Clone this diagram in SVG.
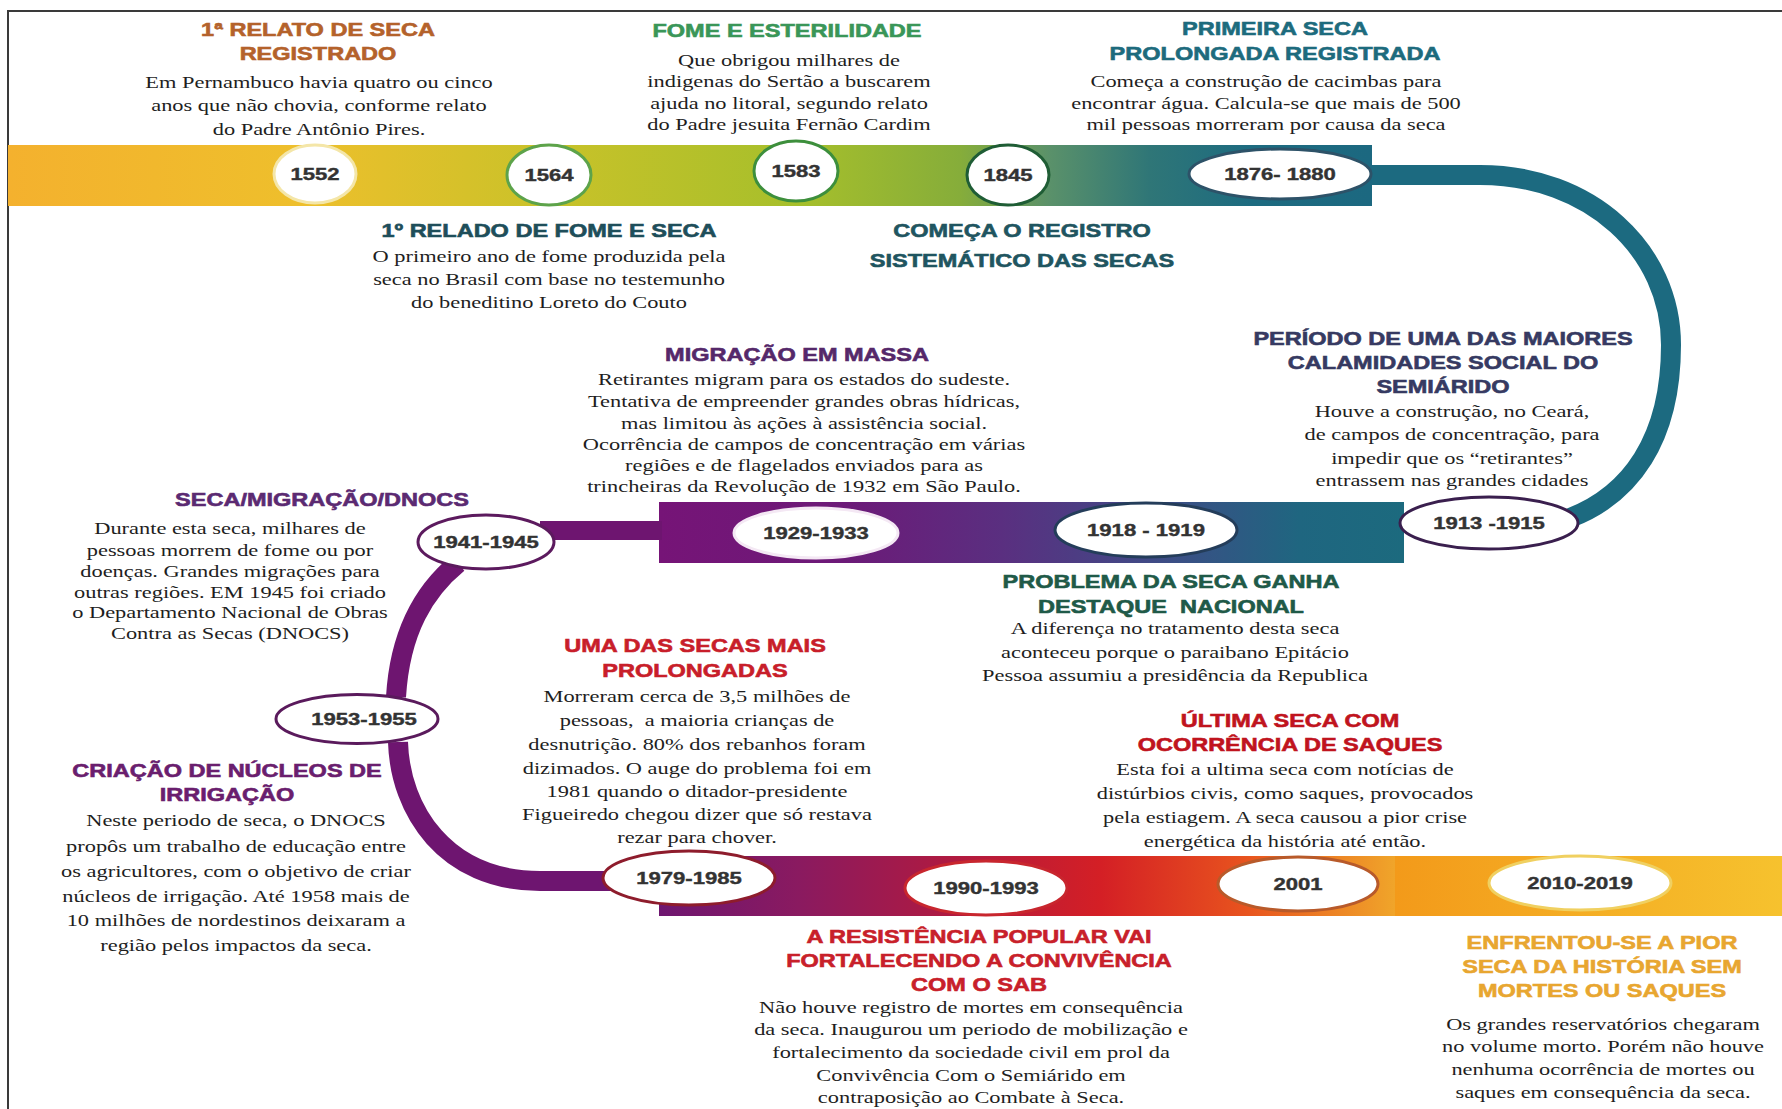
<svg xmlns="http://www.w3.org/2000/svg" width="1782" height="1109" viewBox="0 0 1782 1109">
  <defs>
    <linearGradient id="gTop" gradientUnits="userSpaceOnUse" x1="8" y1="0" x2="1372" y2="0">
      <stop offset="0" stop-color="#f4b12e"/>
      <stop offset="0.214" stop-color="#eebf2c"/>
      <stop offset="0.397" stop-color="#c9c229"/>
      <stop offset="0.581" stop-color="#a6bf2b"/>
      <stop offset="0.698" stop-color="#86ad3a"/>
      <stop offset="0.764" stop-color="#5a916a"/>
      <stop offset="0.837" stop-color="#2f7677"/>
      <stop offset="0.911" stop-color="#1d6b80"/>
      <stop offset="1" stop-color="#1c6880"/>
    </linearGradient>
    <linearGradient id="gMid" gradientUnits="userSpaceOnUse" x1="659" y1="0" x2="1404" y2="0">
      <stop offset="0" stop-color="#761477"/>
      <stop offset="0.25" stop-color="#6c1a78"/>
      <stop offset="0.46" stop-color="#5a2f80"/>
      <stop offset="0.66" stop-color="#404a86"/>
      <stop offset="0.86" stop-color="#1f6680"/>
      <stop offset="1" stop-color="#1c6a7e"/>
    </linearGradient>
    <linearGradient id="gBot" gradientUnits="userSpaceOnUse" x1="659" y1="0" x2="1395" y2="0">
      <stop offset="0" stop-color="#6e1670"/>
      <stop offset="0.19" stop-color="#8a1a60"/>
      <stop offset="0.4" stop-color="#b01a40"/>
      <stop offset="0.6" stop-color="#d41f25"/>
      <stop offset="0.8" stop-color="#e8541e"/>
      <stop offset="1" stop-color="#f0a52a"/>
    </linearGradient>
    <linearGradient id="gEnd" gradientUnits="userSpaceOnUse" x1="1395" y1="0" x2="1782" y2="0">
      <stop offset="0" stop-color="#f39a1a"/>
      <stop offset="1" stop-color="#f6c22e"/>
    </linearGradient>
  </defs>
  <style>
    .t { font-family: "Liberation Sans", Arial, sans-serif; font-weight: bold; font-size: 18.6px; text-anchor: middle; fill: currentColor; stroke: currentColor; stroke-width: 0.6px; }
    .b { font-family: "Liberation Serif", "Times New Roman", serif; font-size: 17.5px; fill: #1e1e1e; text-anchor: middle; }
    .yr { font-family: "Liberation Sans", Arial, sans-serif; font-weight: bold; font-size: 17px; fill: #333; stroke: #333; stroke-width: 0.4px; text-anchor: middle; }
    .oval { fill: #fff; stroke-width: 3; }
    .link { fill: none; stroke-width: 20; }
  </style>

  <rect width="1782" height="1109" fill="#fff"/>
  <!-- page frame -->
  <path d="M8 1109 V11 H1782" fill="none" stroke="#3a3a3a" stroke-width="2"/>

  <!-- timeline bands -->
  <g id="bands">
    <rect x="8" y="145" width="1364" height="61" fill="url(#gTop)"/>
    <rect x="659" y="502" width="745" height="61" fill="url(#gMid)"/>
    <rect x="659" y="856" width="736" height="60" fill="url(#gBot)"/>
    <rect x="1395" y="856" width="387" height="60" fill="url(#gEnd)"/>
  </g>

  <!-- connectors between the bands -->
  <g id="connectors">
    <path class="link" stroke="#1c6a80" d="M1372 175 H1480 C1590 175 1671 250 1671 345 C1671 440 1630 495 1570 518"/>
    <rect x="540" y="521" width="122" height="19" fill="#6e1570"/>
    <path class="link" stroke="#6e1570" d="M458 563 C425 590 400 630 396 697"/>
    <path class="link" stroke="#6e1570" d="M398 742 C400 810 445 881 540 881 H662"/>
  </g>

  <!-- year markers -->
  <g id="y1552"><ellipse class="oval" cx="315" cy="174" rx="41" ry="29" stroke="#f4e6a8" stroke-width="2"/><text class="yr" transform="translate(315 180) scale(1.3 1)">1552</text></g>
  <g id="y1564"><ellipse class="oval" cx="549" cy="175" rx="42" ry="30" stroke="#5da34a"/><text class="yr" transform="translate(549 181) scale(1.3 1)">1564</text></g>
  <g id="y1583"><ellipse class="oval" cx="796" cy="171" rx="42" ry="30" stroke="#3d8f3c"/><text class="yr" transform="translate(796 177) scale(1.3 1)">1583</text></g>
  <g id="y1845"><ellipse class="oval" cx="1008" cy="175" rx="41" ry="30" stroke="#1f5d35"/><text class="yr" transform="translate(1008 181) scale(1.3 1)">1845</text></g>
  <g id="y1876"><ellipse class="oval" cx="1280" cy="174" rx="91" ry="25" stroke="#2d5268" stroke-width="2"/><text class="yr" transform="translate(1280 180) scale(1.3 1)">1876- 1880</text></g>

  <g id="y1913"><ellipse class="oval" cx="1489" cy="523" rx="89" ry="26" stroke="#3a1f4e"/><text class="yr" transform="translate(1489 529) scale(1.3 1)">1913 -1915</text></g>
  <g id="y1918"><ellipse class="oval" cx="1146" cy="530" rx="91" ry="27" stroke="#243d5a"/><text class="yr" transform="translate(1146 536) scale(1.3 1)">1918 - 1919</text></g>
  <g id="y1929"><ellipse class="oval" cx="816" cy="533" rx="82" ry="25" stroke="#f4e8f4" stroke-width="2"/><text class="yr" transform="translate(816 539) scale(1.3 1)">1929-1933</text></g>
  <g id="y1941"><ellipse class="oval" cx="486" cy="542" rx="68" ry="27" stroke="#5c1a5e" stroke-width="3.5"/><text class="yr" transform="translate(486 548) scale(1.3 1)">1941-1945</text></g>
  <g id="y1953"><ellipse class="oval" cx="357" cy="719" rx="81" ry="24.5" stroke="#5a1a5c" stroke-width="3.5"/><text class="yr" transform="translate(364 725) scale(1.3 1)">1953-1955</text></g>

  <g id="y1979"><ellipse class="oval" cx="689" cy="878" rx="86" ry="27" stroke="#8e1c2c"/><text class="yr" transform="translate(689 884) scale(1.3 1)">1979-1985</text></g>
  <g id="y1990"><ellipse class="oval" cx="986" cy="888" rx="81" ry="27" stroke="#c8262e"/><text class="yr" transform="translate(986 894) scale(1.3 1)">1990-1993</text></g>
  <g id="y2001"><ellipse class="oval" cx="1298" cy="884" rx="80" ry="27" stroke="#b85a2a"/><text class="yr" transform="translate(1298 890) scale(1.3 1)">2001</text></g>
  <g id="y2010"><ellipse class="oval" cx="1580" cy="883" rx="91" ry="27" stroke="#f0d060" stroke-width="2"/><text class="yr" transform="translate(1580 889) scale(1.3 1)">2010-2019</text></g>

  <!-- event descriptions -->
  <g id="ev1552">
    <g transform="translate(318 0) scale(1.265 1)"><text class="t" color="#b4622b"><tspan x="0" y="36">1ª RELATO DE SECA</tspan><tspan x="0" y="60">REGISTRADO</tspan></text></g>
    <g transform="translate(319 0) scale(1.28 1)"><text class="b"><tspan x="0" y="88">Em Pernambuco havia quatro ou cinco</tspan><tspan x="0" y="111">anos que não chovia, conforme relato</tspan><tspan x="0" y="135">do Padre Antônio Pires.</tspan></text></g>
  </g>
  <g id="ev1583">
    <g transform="translate(787 0) scale(1.265 1)"><text class="t" color="#3a9658"><tspan x="0" y="36.7">FOME E ESTERILIDADE</tspan></text></g>
    <g transform="translate(789 0) scale(1.28 1)"><text class="b"><tspan x="0" y="66">Que obrigou milhares de</tspan><tspan x="0" y="87.5">indigenas do Sertão a buscarem</tspan><tspan x="0" y="109">ajuda no litoral, segundo relato</tspan><tspan x="0" y="130.5">do Padre jesuita Fernão Cardim</tspan></text></g>
  </g>
  <g id="ev1876">
    <g transform="translate(1275 0) scale(1.265 1)"><text class="t" color="#1d6b7d"><tspan x="0" y="35.5">PRIMEIRA SECA</tspan><tspan x="0" y="60">PROLONGADA REGISTRADA</tspan></text></g>
    <g transform="translate(1266 0) scale(1.28 1)"><text class="b"><tspan x="0" y="87.5">Começa a construção de cacimbas para</tspan><tspan x="0" y="109">encontrar água. Calcula-se que mais de 500</tspan><tspan x="0" y="130">mil pessoas morreram por causa da seca</tspan></text></g>
  </g>
  <g id="ev1564">
    <g transform="translate(549 0) scale(1.265 1)"><text class="t" color="#1e4e5a"><tspan x="0" y="237.5">1º RELADO DE FOME E SECA</tspan></text></g>
    <g transform="translate(549 0) scale(1.28 1)"><text class="b"><tspan x="0" y="262.5">O primeiro ano de fome produzida pela</tspan><tspan x="0" y="285.3">seca no Brasil com base no testemunho</tspan><tspan x="0" y="308">do beneditino Loreto do Couto</tspan></text></g>
  </g>
  <g id="ev1845">
    <g transform="translate(1022 0) scale(1.265 1)"><text class="t" color="#1f5560"><tspan x="0" y="237.5">COMEÇA O REGISTRO</tspan><tspan x="0" y="267">SISTEMÁTICO DAS SECAS</tspan></text></g>
  </g>
  <g id="ev1913">
    <g transform="translate(1443 0) scale(1.265 1)"><text class="t" color="#363a62"><tspan x="0" y="345.5">PERÍODO DE UMA DAS MAIORES</tspan><tspan x="0" y="369.4">CALAMIDADES SOCIAL DO</tspan><tspan x="0" y="393.2">SEMIÁRIDO</tspan></text></g>
    <g transform="translate(1452 0) scale(1.28 1)"><text class="b"><tspan x="0" y="417">Houve a construção, no Ceará,</tspan><tspan x="0" y="440">de campos de concentração, para</tspan><tspan x="0" y="463.7">impedir que os “retirantes”</tspan><tspan x="0" y="486.4">entrassem nas grandes cidades</tspan></text></g>
  </g>
  <g id="ev1929">
    <g transform="translate(797 0) scale(1.265 1)"><text class="t" color="#55286a"><tspan x="0" y="361.4">MIGRAÇÃO EM MASSA</tspan></text></g>
    <g transform="translate(804 0) scale(1.28 1)"><text class="b"><tspan x="0" y="385.3">Retirantes migram para os estados do sudeste.</tspan><tspan x="0" y="407">Tentativa de empreender grandes obras hídricas,</tspan><tspan x="0" y="428.6">mas limitou às ações à assistência social.</tspan><tspan x="0" y="450.2">Ocorrência de campos de concentração em várias</tspan><tspan x="0" y="471">regiões e de flagelados enviados para as</tspan><tspan x="0" y="492">trincheiras da Revolução de 1932 em São Paulo.</tspan></text></g>
  </g>
  <g id="ev1941">
    <g transform="translate(322 0) scale(1.265 1)"><text class="t" color="#5b2a72"><tspan x="0" y="505.7">SECA/MIGRAÇÃO/DNOCS</tspan></text></g>
    <g transform="translate(230 0) scale(1.28 1)"><text class="b"><tspan x="0" y="534">Durante esta seca, milhares de</tspan><tspan x="0" y="555.7">pessoas morrem de fome ou por</tspan><tspan x="0" y="577.3">doenças. Grandes migrações para</tspan><tspan x="0" y="597.8">outras regiões. EM 1945 foi criado</tspan><tspan x="0" y="618.3">o Departamento Nacional de Obras</tspan><tspan x="0" y="638.7">Contra as Secas (DNOCS)</tspan></text></g>
  </g>
  <g id="ev1918">
    <g transform="translate(1171 0) scale(1.265 1)"><text class="t" color="#1f5a48"><tspan x="0" y="587.6">PROBLEMA DA SECA GANHA</tspan><tspan x="0" y="612.6">DESTAQUE&#160; NACIONAL</tspan></text></g>
    <g transform="translate(1175 0) scale(1.28 1)"><text class="b"><tspan x="0" y="634">A diferença no tratamento desta seca</tspan><tspan x="0" y="658">aconteceu porque o paraibano Epitácio</tspan><tspan x="0" y="680.8">Pessoa assumiu a presidência da Republica</tspan></text></g>
  </g>
  <g id="ev1979">
    <g transform="translate(695 0) scale(1.265 1)"><text class="t" color="#c81e2a"><tspan x="0" y="652.3">UMA DAS SECAS MAIS</tspan><tspan x="0" y="677.4">PROLONGADAS</tspan></text></g>
    <g transform="translate(697 0) scale(1.28 1)"><text class="b"><tspan x="0" y="702.4">Morreram cerca de 3,5 milhões de</tspan><tspan x="0" y="726.2">pessoas,&#160; a maioria crianças de</tspan><tspan x="0" y="750">desnutrição. 80% dos rebanhos foram</tspan><tspan x="0" y="773.9">dizimados. O auge do problema foi em</tspan><tspan x="0" y="796.7">1981 quando o ditador-presidente</tspan><tspan x="0" y="820.5">Figueiredo chegou dizer que só restava</tspan><tspan x="0" y="843.3">rezar para chover.</tspan></text></g>
  </g>
  <g id="ev1953">
    <g transform="translate(227 0) scale(1.265 1)"><text class="t" color="#6a1e6e"><tspan x="0" y="777.4">CRIAÇÃO DE NÚCLEOS DE</tspan><tspan x="0" y="801.2">IRRIGAÇÃO</tspan></text></g>
    <g transform="translate(236 0) scale(1.28 1)"><text class="b"><tspan x="0" y="826.2">Neste periodo de seca, o DNOCS</tspan><tspan x="0" y="852.4">propôs um trabalho de educação entre</tspan><tspan x="0" y="877.4">os agricultores, com o objetivo de criar</tspan><tspan x="0" y="902.4">núcleos de irrigação. Até 1958 mais de</tspan><tspan x="0" y="926.2">10 milhões de nordestinos deixaram a</tspan><tspan x="0" y="951.2">região pelos impactos da seca.</tspan></text></g>
  </g>
  <g id="ev2001">
    <g transform="translate(1290 0) scale(1.265 1)"><text class="t" color="#c0141e"><tspan x="0" y="727.4">ÚLTIMA SECA COM</tspan><tspan x="0" y="751.2">OCORRÊNCIA DE SAQUES</tspan></text></g>
    <g transform="translate(1285 0) scale(1.28 1)"><text class="b"><tspan x="0" y="775">Esta foi a ultima seca com notícias de</tspan><tspan x="0" y="799">distúrbios civis, como saques, provocados</tspan><tspan x="0" y="822.8">pela estiagem. A seca causou a pior crise</tspan><tspan x="0" y="846.6">energética da história até então.</tspan></text></g>
  </g>
  <g id="ev1990">
    <g transform="translate(979 0) scale(1.265 1)"><text class="t" color="#c8202a"><tspan x="0" y="943.3">A RESISTÊNCIA POPULAR VAI</tspan><tspan x="0" y="967.2">FORTALECENDO A CONVIVÊNCIA</tspan><tspan x="0" y="991">COM O SAB</tspan></text></g>
    <g transform="translate(971 0) scale(1.28 1)"><text class="b"><tspan x="0" y="1012.6">Não houve registro de mortes em consequência</tspan><tspan x="0" y="1035.4">da seca. Inaugurou um periodo de mobilização e</tspan><tspan x="0" y="1058.1">fortalecimento da sociedade civil em prol da</tspan><tspan x="0" y="1080.8">Convivência Com o Semiárido em</tspan><tspan x="0" y="1103.5">contraposição ao Combate à Seca.</tspan></text></g>
  </g>
  <g id="ev2010">
    <g transform="translate(1602 0) scale(1.265 1)"><text class="t" color="#e8a630"><tspan x="0" y="949">ENFRENTOU-SE A PIOR</tspan><tspan x="0" y="972.9">SECA DA HISTÓRIA SEM</tspan><tspan x="0" y="996.7">MORTES OU SAQUES</tspan></text></g>
    <g transform="translate(1603 0) scale(1.28 1)"><text class="b"><tspan x="0" y="1029.6">Os grandes reservatórios chegaram</tspan><tspan x="0" y="1052.4">no volume morto. Porém não houve</tspan><tspan x="0" y="1075.1">nenhuma ocorrência de mortes ou</tspan><tspan x="0" y="1097.8">saques em consequência da seca.</tspan></text></g>
  </g>
</svg>
